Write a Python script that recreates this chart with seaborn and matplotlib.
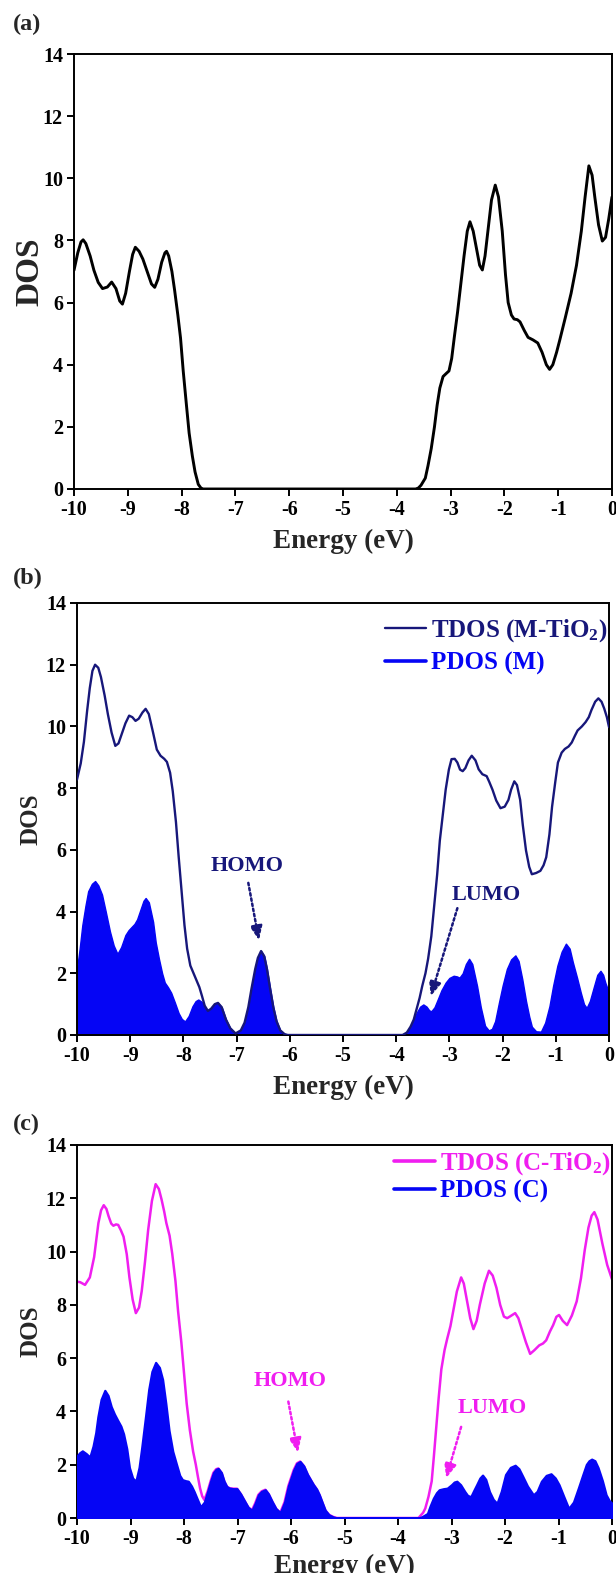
import numpy as np
import matplotlib
matplotlib.use("Agg")
import matplotlib.pyplot as plt
from matplotlib.lines import Line2D
import seaborn as sns

# ---------------- data ----------------
xticks = [-10, -9, -8, -7, -6, -5, -4, -3, -2, -1, 0]
yticks = [0, 2, 4, 6, 8, 10, 12, 14]

# (a) total DOS
a_energy = [-10, -9.93, -9.87, -9.83, -9.78, -9.70, -9.63, -9.55, -9.47, -9.38, -9.30, -9.22,
            -9.15, -9.10, -9.04, -8.97, -8.91, -8.86, -8.79, -8.72, -8.63, -8.56, -8.50, -8.44,
            -8.37, -8.31, -8.28, -8.24, -8.18, -8.13, -8.07, -8.02, -7.97, -7.91, -7.86, -7.80,
            -7.75, -7.69, -7.64, -7.60, -3.65, -3.60, -3.55, -3.47, -3.42, -3.36, -3.30, -3.25,
            -3.20, -3.14, -3.08, -3.03, -2.98, -2.93, -2.87, -2.81, -2.75, -2.69, -2.64, -2.58,
            -2.52, -2.46, -2.41, -2.36, -2.30, -2.24, -2.17, -2.11, -2.04, -1.98, -1.93, -1.87,
            -1.82, -1.76, -1.71, -1.63, -1.56, -1.47, -1.38, -1.30, -1.22, -1.16, -1.10, -1.03,
            -0.97, -0.87, -0.76, -0.66, -0.57, -0.50, -0.43, -0.37, -0.32, -0.25, -0.18, -0.12,
            -0.06, 0]
a_dos = [7.04, 7.6, 7.95, 8.02, 7.9, 7.5, 7.04, 6.65, 6.45, 6.5, 6.66, 6.45,
         6.05, 5.95, 6.3, 7.0, 7.55, 7.78, 7.65, 7.4, 6.95, 6.6, 6.49, 6.75,
         7.3, 7.6, 7.65, 7.5, 7.0, 6.4, 5.6, 4.86, 3.8, 2.7, 1.8, 1.06,
         0.55, 0.15, 0.03, 0.0, 0.0, 0.03, 0.12, 0.35, 0.75, 1.3, 2.0, 2.7,
         3.25, 3.62, 3.72, 3.8, 4.2, 4.9, 5.7, 6.6, 7.5, 8.3, 8.6, 8.3,
         7.75, 7.2, 7.05, 7.5, 8.4, 9.3, 9.78, 9.4, 8.3, 6.9, 6.0, 5.6,
         5.47, 5.45, 5.38, 5.1, 4.88, 4.8, 4.7, 4.4, 4.0, 3.85, 4.0, 4.4,
         4.8, 5.5, 6.3, 7.2, 8.3, 9.4, 10.4, 10.1, 9.4, 8.5, 7.98, 8.1,
         8.7, 9.4]

# (b) TDOS (M-TiO2)
b_tdos_energy = [-10, -9.93, -9.87, -9.81, -9.76, -9.71, -9.66, -9.60, -9.55, -9.48, -9.42, -9.35,
                 -9.28, -9.22, -9.16, -9.09, -9.02, -8.96, -8.90, -8.84, -8.77, -8.71, -8.65, -8.57,
                 -8.50, -8.43, -8.36, -8.31, -8.25, -8.20, -8.14, -8.09, -8.03, -7.98, -7.93, -7.87,
                 -7.81, -7.76, -7.70, -7.65, -7.60, -7.54, -7.48, -7.41, -7.35, -7.28, -7.20, -7.12,
                 -7.02, -6.92, -6.85, -6.78, -6.72, -6.65, -6.60, -6.54, -6.48, -6.43, -6.37, -6.31,
                 -6.25, -6.18, -6.10, -6.04, -3.88, -3.80, -3.73, -3.67, -3.62, -3.56, -3.51, -3.45,
                 -3.40, -3.34, -3.29, -3.23, -3.18, -3.12, -3.07, -3.01, -2.96, -2.90, -2.85, -2.80,
                 -2.75, -2.70, -2.64, -2.58, -2.51, -2.45, -2.38, -2.30, -2.25, -2.19, -2.12, -2.04,
                 -1.96, -1.89, -1.84, -1.78, -1.73, -1.67, -1.62, -1.56, -1.50, -1.45, -1.37, -1.29,
                 -1.23, -1.18, -1.12, -1.07, -1.01, -0.96, -0.89, -0.83, -0.76, -0.70, -0.64, -0.59,
                 -0.51, -0.44, -0.38, -0.33, -0.26, -0.20, -0.14, -0.09, -0.04, 0]
b_tdos = [8.28, 8.8, 9.5, 10.5, 11.24, 11.8, 12.0, 11.9, 11.6, 11.0, 10.4, 9.8,
          9.37, 9.45, 9.75, 10.1, 10.35, 10.3, 10.18, 10.25, 10.45, 10.57, 10.4, 9.8,
          9.25, 9.05, 8.95, 8.85, 8.5, 7.9, 6.9, 5.8, 4.6, 3.56, 2.8, 2.25,
          2.0, 1.8, 1.55, 1.26, 0.95, 0.78, 0.85, 1.0, 1.04, 0.9, 0.5, 0.22,
          0.05, 0.15, 0.4, 0.9, 1.5, 2.14, 2.5, 2.72, 2.55, 2.14, 1.5, 0.9,
          0.45, 0.15, 0.03, 0.0, 0.0, 0.08, 0.27, 0.5, 0.82, 1.2, 1.59, 2.0,
          2.47, 3.2, 4.11, 5.2, 6.3, 7.2, 7.95, 8.6, 8.94, 8.95, 8.83, 8.6,
          8.55, 8.65, 8.9, 9.05, 8.9, 8.61, 8.45, 8.39, 8.2, 7.95, 7.6, 7.35,
          7.4, 7.62, 7.95, 8.22, 8.1, 7.62, 6.8, 5.98, 5.45, 5.21, 5.25, 5.32,
          5.5, 5.76, 6.5, 7.4, 8.2, 8.83, 9.15, 9.27, 9.35, 9.48, 9.7, 9.87,
          10.0, 10.14, 10.3, 10.53, 10.8, 10.91, 10.8, 10.58, 10.3, 9.98]

# (b) PDOS (M)
b_pdos_energy = [-10, -9.95, -9.90, -9.84, -9.79, -9.72, -9.66, -9.60, -9.53, -9.46, -9.38, -9.31,
                 -9.24, -9.17, -9.09, -9.03, -8.97, -8.92, -8.87, -8.80, -8.75, -8.71, -8.65, -8.57,
                 -8.52, -8.46, -8.40, -8.35, -8.29, -8.23, -8.16, -8.09, -8.03, -7.97, -7.90, -7.83,
                 -7.77, -7.72, -7.66, -7.60, -7.54, -7.48, -7.41, -7.35, -7.28, -7.20, -7.12, -7.02,
                 -6.92, -6.85, -6.78, -6.72, -6.65, -6.60, -6.54, -6.48, -6.43, -6.37, -6.31, -6.25,
                 -6.18, -6.10, -6.04, -3.88, -3.80, -3.73, -3.67, -3.62, -3.55, -3.49, -3.43, -3.38,
                 -3.34, -3.28, -3.22, -3.15, -3.07, -3.00, -2.92, -2.86, -2.81, -2.75, -2.69, -2.63,
                 -2.57, -2.48, -2.41, -2.33, -2.26, -2.20, -2.14, -2.07, -2.00, -1.92, -1.84, -1.76,
                 -1.70, -1.63, -1.56, -1.50, -1.45, -1.37, -1.28, -1.20, -1.12, -1.05, -0.97, -0.89,
                 -0.81, -0.74, -0.68, -0.60, -0.53, -0.47, -0.42, -0.36, -0.28, -0.22, -0.16, -0.11,
                 -0.07, 0]
b_pdos = [2.14, 2.8, 3.56, 4.2, 4.66, 4.9, 4.99, 4.85, 4.55, 4.0, 3.35, 2.9,
          2.63, 2.85, 3.24, 3.4, 3.51, 3.6, 3.75, 4.1, 4.35, 4.44, 4.3, 3.67,
          3.0, 2.47, 2.0, 1.7, 1.55, 1.37, 1.05, 0.71, 0.52, 0.44, 0.62, 0.93,
          1.1, 1.15, 1.08, 0.9, 0.78, 0.85, 1.0, 1.04, 0.9, 0.5, 0.22, 0.05,
          0.15, 0.4, 0.9, 1.5, 2.14, 2.5, 2.72, 2.55, 2.14, 1.5, 0.9, 0.45,
          0.15, 0.03, 0.0, 0.0, 0.08, 0.27, 0.5, 0.71, 0.92, 0.99, 0.92, 0.8,
          0.77, 0.9, 1.15, 1.45, 1.7, 1.85, 1.92, 1.9, 1.86, 2.0, 2.3, 2.47,
          2.3, 1.59, 0.9, 0.3, 0.15, 0.2, 0.45, 1.04, 1.6, 2.14, 2.45, 2.58,
          2.4, 1.81, 1.1, 0.6, 0.27, 0.12, 0.11, 0.4, 0.93, 1.6, 2.25, 2.7,
          2.96, 2.8, 2.36, 1.85, 1.37, 1.0, 0.88, 1.1, 1.59, 1.95, 2.08, 1.95,
          1.7, 1.37]

# (c) PDOS (C)
c_pdos_energy = [-10, -9.95, -9.90, -9.83, -9.76, -9.70, -9.65, -9.61, -9.55, -9.48, -9.42, -9.36,
                 -9.30, -9.24, -9.18, -9.13, -9.07, -9.02, -8.96, -8.90, -8.84, -8.79, -8.72, -8.66,
                 -8.60, -8.53, -8.46, -8.40, -8.34, -8.28, -8.21, -8.14, -8.08, -8.03, -7.97, -7.92,
                 -7.86, -7.81, -7.75, -7.69, -7.62, -7.56, -7.50, -7.45, -7.40, -7.36, -7.30, -7.25,
                 -7.20, -7.15, -7.08, -7.01, -6.94, -6.86, -6.80, -6.73, -6.67, -6.61, -6.55, -6.48,
                 -6.42, -6.35, -6.28, -6.20, -6.12, -6.05, -6.02, -5.95, -5.89, -5.83, -5.76, -5.69,
                 -5.63, -5.58, -5.52, -5.47, -5.41, -5.36, -5.29, -5.21, -5.14, -3.62, -3.55, -3.45,
                 -3.40, -3.34, -3.28, -3.23, -3.15, -3.08, -3.00, -2.95, -2.90, -2.83, -2.75, -2.70,
                 -2.64, -2.58, -2.53, -2.47, -2.42, -2.36, -2.29, -2.22, -2.15, -2.07, -1.99, -1.90,
                 -1.81, -1.74, -1.67, -1.58, -1.47, -1.40, -1.32, -1.23, -1.14, -1.06, -0.99, -0.90,
                 -0.81, -0.72, -0.63, -0.55, -0.48, -0.43, -0.38, -0.32, -0.26, -0.18, -0.11, -0.05,
                 0]
c_pdos = [2.33, 2.45, 2.52, 2.42, 2.29, 2.7, 3.2, 3.8, 4.45, 4.79, 4.6, 4.18,
          3.9, 3.67, 3.45, 3.16, 2.6, 1.89, 1.5, 1.38, 1.9, 2.65, 3.8, 4.82,
          5.5, 5.84, 5.65, 5.2, 4.3, 3.29, 2.5, 2.01, 1.6, 1.44, 1.4, 1.38,
          1.2, 0.99, 0.7, 0.42, 0.6, 0.99, 1.4, 1.7, 1.83, 1.86, 1.7, 1.38,
          1.18, 1.12, 1.1, 1.1, 0.9, 0.61, 0.4, 0.29, 0.55, 0.87, 1.0, 1.06,
          0.9, 0.61, 0.35, 0.2, 0.6, 1.2, 1.38, 1.8, 2.05, 2.12, 1.95, 1.63,
          1.42, 1.25, 1.08, 0.87, 0.55, 0.29, 0.12, 0.04, 0.0, 0.0, 0.05, 0.17,
          0.45, 0.74, 0.95, 1.06, 1.1, 1.12, 1.25, 1.35, 1.38, 1.25, 0.99, 0.85,
          0.8, 1.05, 1.25, 1.5, 1.61, 1.45, 0.99, 0.7, 0.55, 1.0, 1.63, 1.9,
          1.98, 1.85, 1.57, 1.2, 0.87, 1.0, 1.38, 1.6, 1.66, 1.5, 1.25, 0.8,
          0.36, 0.6, 1.12, 1.6, 2.01, 2.15, 2.21, 2.15, 1.89, 1.4, 0.87, 0.65,
          0.55]

# (c) TDOS (C-TiO2): valence part, conduction part (it runs under PDOS in between)
c_tdos_val_energy = [-10, -9.94, -9.85, -9.76, -9.68, -9.60, -9.55, -9.50, -9.45, -9.41, -9.36, -9.32,
                     -9.27, -9.23, -9.18, -9.13, -9.07, -9.02, -8.96, -8.90, -8.84, -8.79, -8.73, -8.67,
                     -8.60, -8.53, -8.47, -8.42, -8.37, -8.33, -8.27, -8.22, -8.16, -8.11, -8.05, -8.00,
                     -7.95, -7.89, -7.83, -7.78, -7.74, -7.70, -7.66, -7.62]
c_tdos_val = [8.87, 8.85, 8.75, 9.03, 9.79, 11.07, 11.55, 11.74, 11.6, 11.33, 11.05, 10.97,
              11.02, 11.0, 10.8, 10.56, 9.9, 9.03, 8.2, 7.69, 7.9, 8.52, 9.6, 10.81,
              11.9, 12.53, 12.35, 11.96, 11.5, 11.07, 10.6, 9.92, 8.9, 7.75, 6.6, 5.46,
              4.3, 3.29, 2.5, 2.01, 1.55, 1.12, 0.82, 0.68]
c_tdos_con_energy = [-3.60, -3.53, -3.49, -3.43, -3.37, -3.33, -3.29, -3.24, -3.19, -3.13, -3.08, -3.02,
                     -2.97, -2.90, -2.82, -2.77, -2.72, -2.65, -2.59, -2.53, -2.47, -2.38, -2.30, -2.23,
                     -2.16, -2.09, -2.02, -1.96, -1.91, -1.81, -1.75, -1.69, -1.61, -1.53, -1.45, -1.36,
                     -1.29, -1.23, -1.16, -1.10, -1.04, -0.99, -0.92, -0.84, -0.75, -0.66, -0.58, -0.51,
                     -0.44, -0.38, -0.33, -0.27, -0.18, -0.09, 0]
c_tdos_con = [0.04, 0.2, 0.36, 0.8, 1.38, 2.3, 3.29, 4.5, 5.58, 6.3, 6.73, 7.2,
              7.75, 8.5, 9.03, 8.8, 8.26, 7.5, 7.09, 7.4, 8.01, 8.8, 9.28, 9.1,
              8.64, 8.0, 7.56, 7.5, 7.56, 7.69, 7.5, 7.11, 6.6, 6.16, 6.3, 6.48,
              6.55, 6.67, 7.0, 7.24, 7.55, 7.62, 7.4, 7.24, 7.6, 8.13, 9.0, 10.05,
              10.9, 11.35, 11.48, 11.2, 10.3, 9.5, 8.96]

# annotation anchors (data units): text position, arrow tail, arrow head
b_homo = [(-6.80, 5.48), (-6.78, 4.93), (-6.58, 3.07)]
b_lumo = [(-2.31, 4.55), (-2.85, 4.11), (-3.35, 1.26)]
c_homo = [(-6.02, 5.14), (-6.05, 4.37), (-5.87, 2.46)]
c_lumo = [(-2.24, 4.12), (-2.82, 3.42), (-3.10, 1.50)]

# ---------------- style ----------------
sns.set_theme(style="ticks")
plt.rcParams["font.family"] = ["Liberation Serif", "DejaVu Serif"]
plt.rcParams["font.weight"] = "bold"
plt.rcParams["axes.labelweight"] = "bold"
plt.rcParams["axes.unicode_minus"] = False
plt.rcParams["mathtext.fontset"] = "custom"
plt.rcParams["mathtext.rm"] = "Liberation Serif:bold"
plt.rcParams["mathtext.it"] = "Liberation Serif:bold:italic"
plt.rcParams["mathtext.bf"] = "Liberation Serif:bold"
plt.rcParams["mathtext.default"] = "rm"

NAVY = "#17177a"
BLUE = "#0505f5"
MAGENTA = "#f01ef0"

W, H = 616, 1573
fig = plt.figure(figsize=(W / 100, H / 100), dpi=100)


def px_axes(left, top, right, bottom):
    return fig.add_axes([left / W, 1 - bottom / H, (right - left) / W, (bottom - top) / H])


ax_a = px_axes(74, 54, 612, 489)
ax_b = px_axes(77, 603, 609, 1035)
ax_c = px_axes(77, 1145, 612, 1518)


def style(ax, ylabel_size, xlab_off, ylab_x):
    ax.set_xlim(-10, 0)
    ax.set_ylim(0, 14)
    ax.set_xticks(xticks)
    ax.set_xticklabels([str(t) for t in xticks])
    ax.set_yticks(yticks)
    ax.set_yticklabels([str(t) for t in yticks])
    for s in ax.spines.values():
        s.set_visible(True)
        s.set_color("black")
        s.set_linewidth(1.4)
    ax.tick_params(axis="both", which="major", direction="out", length=5, width=1.4,
                   labelsize=14.5, pad=3, colors="black", top=False, right=False)
    for lab in ax.get_xticklabels() + ax.get_yticklabels():
        lab.set_fontweight("bold")
    ax.set_xlabel("Energy (eV)", fontsize=19.5, fontweight="bold")
    ax.set_ylabel("DOS", fontsize=ylabel_size, fontweight="bold")
    ax.xaxis.set_label_coords(0.5, xlab_off)
    ax.xaxis.label.set_va("center")
    ax.yaxis.set_label_coords(ylab_x, 0.5)
    ax.yaxis.label.set_va("center")
    ax.set_facecolor("white")


def arrow(ax, spec, label, color):
    (tx, ty), (sx, sy), (ex, ey) = spec
    ax.text(tx, ty, label, color=color, fontsize=16, fontweight="bold",
            ha="center", va="center", zorder=6)
    ax.annotate("", xy=(ex, ey), xytext=(sx, sy), zorder=6,
                arrowprops=dict(arrowstyle="-|>,head_length=0.7,head_width=0.3",
                                color=color, lw=1.8, linestyle=(0, (1, 1.1)),
                                shrinkA=0, shrinkB=0))


# ---- (a)
sns.lineplot(x=a_energy, y=a_dos, ax=ax_a, color="black", linewidth=2.1,
             estimator=None, sort=False, legend=False)
style(ax_a, 24, -52 / 435, (30 - 74) / 538)

# ---- (b)
ax_b.fill_between(b_pdos_energy, b_pdos, 0, facecolor=BLUE, edgecolor=BLUE, linewidth=1.0, zorder=2)
sns.lineplot(x=b_tdos_energy, y=b_tdos, ax=ax_b, color=NAVY, linewidth=1.7,
             estimator=None, sort=False, legend=False, zorder=3)
style(ax_b, 18, -52 / 432, (31 - 77) / 532)
arrow(ax_b, b_homo, "HOMO", NAVY)
arrow(ax_b, b_lumo, "LUMO", NAVY)
hb = [Line2D([], [], color=NAVY, lw=1.7), Line2D([], [], color=BLUE, lw=2.6)]
leg_b = ax_b.legend(hb, ["TDOS (M-TiO$_2$)", "PDOS (M)"], loc="upper right",
                    bbox_to_anchor=(0.998, 0.967), frameon=False, fontsize=18,
                    handlelength=1.65, handletextpad=0.2, labelspacing=0.3,
                    borderaxespad=0, borderpad=0)
for t, c in zip(leg_b.get_texts(), [NAVY, BLUE]):
    t.set_color(c)
    t.set_fontweight("bold")

# ---- (c)
c_mid_mask = (np.array(c_pdos_energy) > -7.61) & (np.array(c_pdos_energy) < -3.61)
c_tdos_energy = np.concatenate([c_tdos_val_energy, np.array(c_pdos_energy)[c_mid_mask], c_tdos_con_energy])
c_tdos = np.concatenate([c_tdos_val, np.array(c_pdos)[c_mid_mask], c_tdos_con])
sns.lineplot(x=c_tdos_energy, y=c_tdos, ax=ax_c, color=MAGENTA, linewidth=1.8,
             estimator=None, sort=False, legend=False, zorder=2)
ax_c.fill_between(c_pdos_energy, c_pdos, 0, facecolor=BLUE, edgecolor=BLUE, linewidth=1.6, zorder=3)
style(ax_c, 18, -48 / 373, (31 - 77) / 535)
arrow(ax_c, c_homo, "HOMO", MAGENTA)
arrow(ax_c, c_lumo, "LUMO", MAGENTA)
hc = [Line2D([], [], color=MAGENTA, lw=2.6), Line2D([], [], color=BLUE, lw=2.6)]
leg_c = ax_c.legend(hc, ["TDOS (C-TiO$_2$)", "PDOS (C)"], loc="upper right",
                    bbox_to_anchor=(0.998, 0.987), frameon=False, fontsize=18,
                    handlelength=1.65, handletextpad=0.2, labelspacing=0.12,
                    borderaxespad=0, borderpad=0)
for t, c in zip(leg_c.get_texts(), [MAGENTA, BLUE]):
    t.set_color(c)
    t.set_fontweight("bold")

# panel letters
for lab, yc in [("(a)", 24), ("(b)", 578), ("(c)", 1124)]:
    fig.text(13 / W, 1 - yc / H, lab, fontsize=17.5, fontweight="bold", ha="left", va="center")

fig.savefig("out.png", dpi=100, facecolor="white")
